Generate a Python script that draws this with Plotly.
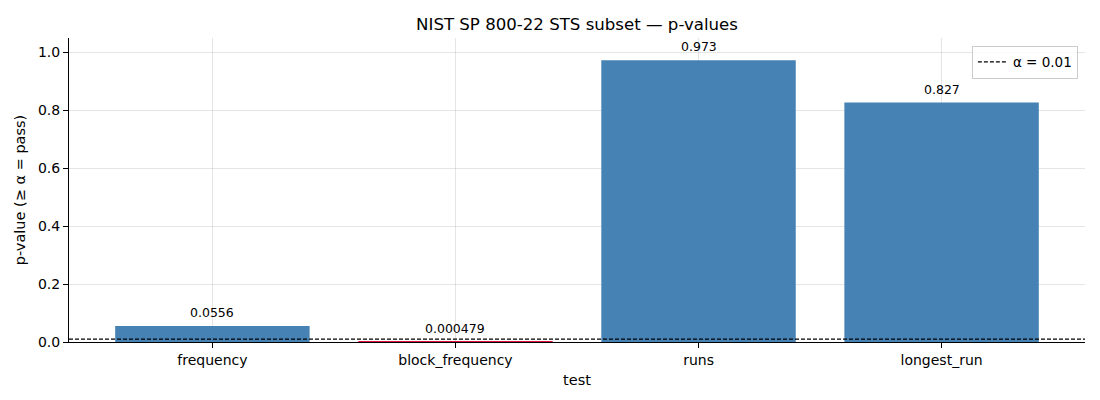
import plotly.graph_objects as go

# NIST STS subset results
tests = ["frequency", "block_frequency", "runs", "longest_run"]
p_values = [0.0556, 0.000479, 0.973, 0.827]
labels = ["0.0556", "0.000479", "0.973", "0.827"]
alpha = 0.01

colors = ["steelblue" if p >= alpha else "crimson" for p in p_values]

fig = go.Figure()
fig.add_trace(go.Bar(
    x=tests, y=p_values, width=0.8,
    marker=dict(color=colors, line=dict(width=0)),
    showlegend=False, hoverinfo="x+y",
))
# legend entry for the alpha line
fig.add_trace(go.Scatter(
    x=[None], y=[None], mode="lines", name="α = 0.01",
    line=dict(color="black", dash="4px,2px", width=1.2),
))
fig.add_hline(y=alpha, line=dict(color="black", dash="4px,2px", width=1.2),
              layer="above")

for t, p, lab in zip(tests, p_values, labels):
    fig.add_annotation(x=t, y=p, text=lab, showarrow=False,
                       yanchor="bottom", yshift=4,
                       font=dict(size=12.5, color="black"))

# page body has an 8px margin, so the figure is a bit smaller than the window
fig.update_layout(
    width=1092, height=392,
    margin=dict(l=58, r=15, t=30, b=58),
    plot_bgcolor="white", paper_bgcolor="white",
    font=dict(family="DejaVu Sans", size=13, color="black"),
    title=dict(text="NIST SP 800-22 STS subset — p-values", x=0.5,
               xref="paper", xanchor="center", y=0.958, yanchor="middle",
               font=dict(size=16.6)),
    xaxis=dict(
        title=dict(text="test", standoff=8, font=dict(size=14.5)),
        tickfont=dict(size=14),
        range=[-0.59, 3.59],
        showline=True, linecolor="black", linewidth=1,
        ticks="outside", ticklen=5, tickcolor="black",
        showgrid=True, gridcolor="rgba(180,180,180,0.35)", gridwidth=1,
        layer="above traces",
    ),
    yaxis=dict(
        title=dict(text="p-value (≥ α = pass)", standoff=8, font=dict(size=14.5)),
        tickfont=dict(size=14),
        range=[0, 1.05], dtick=0.2, tickformat=".1f",
        showline=True, linecolor="black", linewidth=1,
        ticks="outside", ticklen=5, tickcolor="black",
        showgrid=True, gridcolor="rgba(180,180,180,0.35)", gridwidth=1,
        zeroline=False, layer="above traces",
    ),
    legend=dict(x=0.993, y=0.975, xanchor="right", yanchor="top",
                bgcolor="rgba(255,255,255,0.8)", bordercolor="#cccccc",
                borderwidth=1, font=dict(size=13.5)),
    bargap=0.2,
)

fig.write_html("out.html")
